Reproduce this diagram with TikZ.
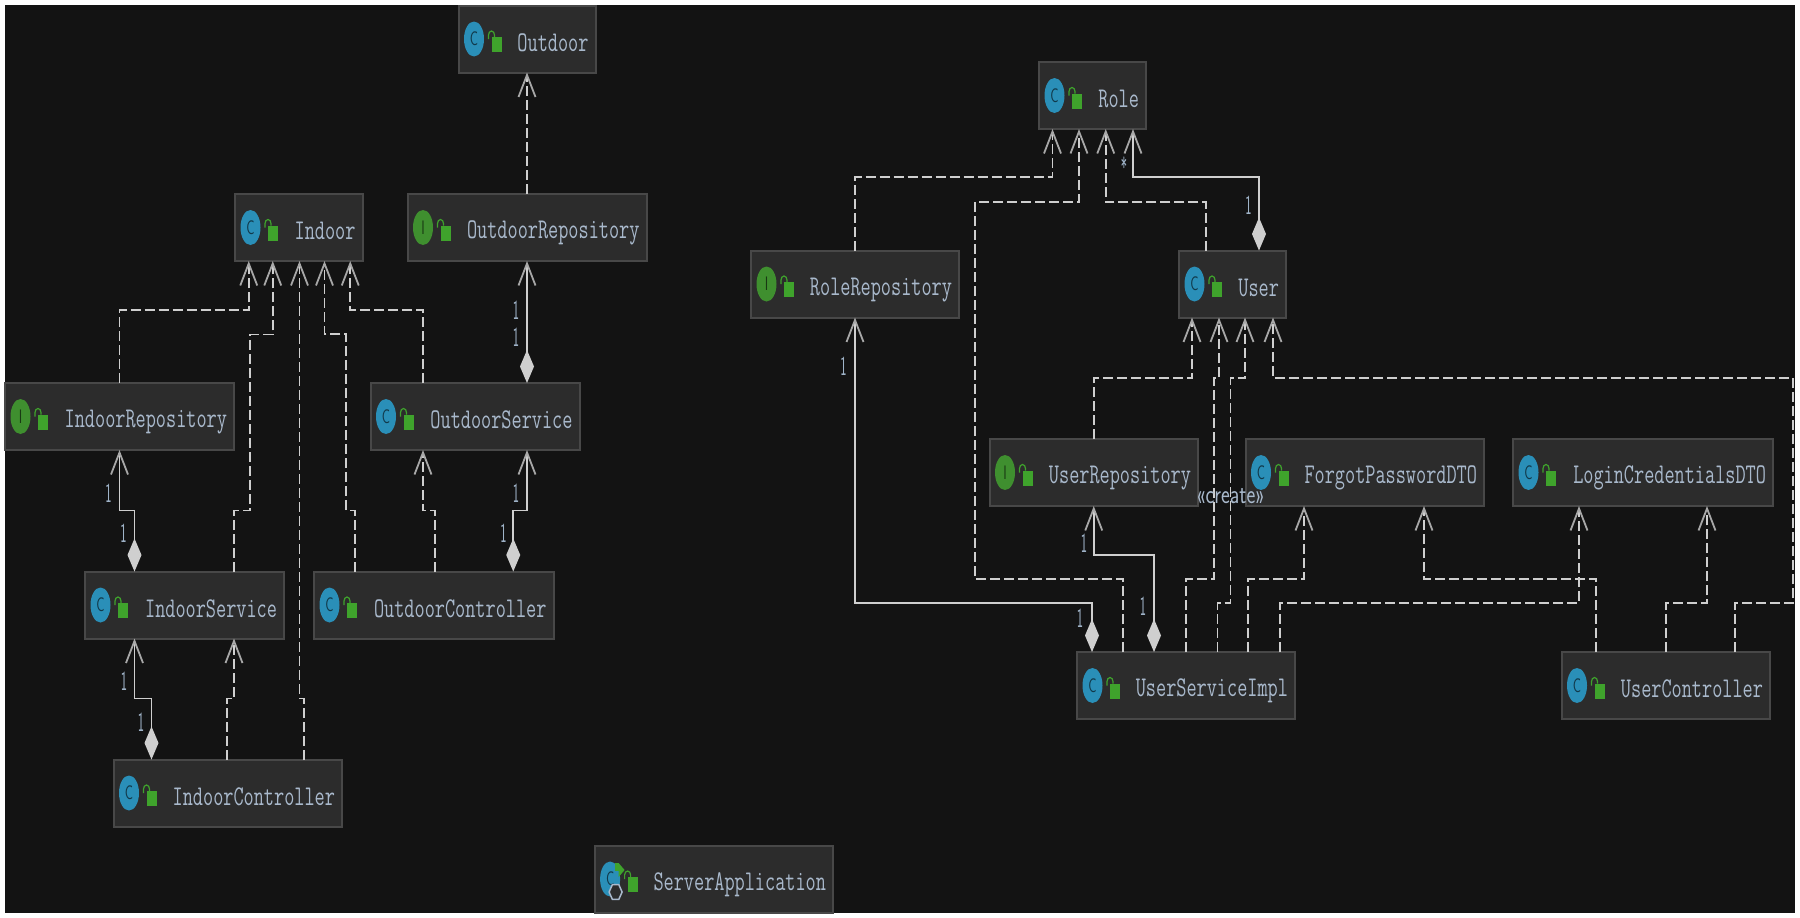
\documentclass[tikz,border=0pt]{standalone}
\usepackage{graphicx}
\usetikzlibrary{arrows.meta,shapes.geometric}
\definecolor{pagebg}{HTML}{131313}
\definecolor{boxfill}{HTML}{2C2C2C}
\definecolor{boxline}{HTML}{484848}
\definecolor{wire}{HTML}{CFCFCF}
\definecolor{tipgrey}{HTML}{A8A8A8}
\definecolor{nametext}{HTML}{A9B9CC}
\definecolor{multtext}{HTML}{9FB3C8}
\definecolor{iconblue}{HTML}{2A8FB8}
\definecolor{icongreen}{HTML}{3F8F2F}
\definecolor{lockgreen}{HTML}{3FA32C}
\newcommand{\boxname}[1]{\rule[-5pt]{0pt}{34pt}\scalebox{1}[1.45]{\ttfamily #1}}
\newcommand{\multmark}[1]{\scalebox{.7}[1.45]{#1}}
\tikzset{
  classbox/.style={draw=boxline, line width=2pt, fill=boxfill, text=nametext, text width=#1,
    align=right, inner xsep=7pt, inner ysep=0pt, outer sep=0pt, minimum height=67pt, font=\fontsize{19.7}{22}\selectfont},
  classicon/.style={ellipse, inner sep=0pt, minimum width=20pt, minimum height=35pt, text=black!60!#1,
    fill=#1, font=\sffamily\fontsize{13}{14}\selectfont},
  dep/.style={draw=wire, line width=1.8pt, dash pattern=on 10pt off 4pt,
    -{Straight Barb[length=22pt,width=17pt,color=tipgrey,line width=1.8pt]}},
  compo/.style={draw=wire, line width=1.8pt,
    {Diamond[length=33pt,width=14pt,color=wire,fill=wire]}-{Straight Barb[length=22pt,width=17pt,color=tipgrey,line width=1.8pt]}},
  mult/.style={text=multtext, inner sep=0pt, font=\sffamily\fontsize{19}{20}\selectfont},
}
\begin{document}
\begin{tikzpicture}[x=1pt,y=-1pt]
    \useasboundingbox (0,0) rectangle (1800,918);
    \fill[white] (0,0) rectangle (1800,918);
    \fill[pagebg] (5,5) rectangle (1795,913);
    % left group
    \node[classbox=123pt] (outdoor) at (527,39) {\boxname{Outdoor}};
    \node[classbox=113.5pt] (indoor) at (298.75,227.5) {\boxname{Indoor}};
    \node[classbox=225pt] (outdoorrepo) at (527,227.5) {\boxname{OutdoorRepository}};
    \node[classbox=215pt] (indoorrepo) at (119.5,416.5) {\boxname{IndoorRepository}};
    \node[classbox=195pt] (outdoorservice) at (475,416.5) {\boxname{OutdoorService}};
    \node[classbox=185pt] (indoorservice) at (184.5,605) {\boxname{IndoorService}};
    \node[classbox=225.5pt] (outdoorctrl) at (433.75,605) {\boxname{OutdoorController}};
    \node[classbox=214.5pt] (indoorctrl) at (227.75,793) {\boxname{IndoorController}};
    \node[classbox=224.4pt] (serverapp) at (713.8,879) {\boxname{ServerApplication}};
    % right group
    \node[classbox=93pt] (role) at (1092.5,95.5) {\boxname{Role}};
    \node[classbox=194pt] (rolerepo) at (855,284) {\boxname{RoleRepository}};
    \node[classbox=93pt] (user) at (1232.5,284) {\boxname{User}};
    \node[classbox=194.5pt] (userrepo) at (1093.75,472.5) {\boxname{UserRepository}};
    \node[classbox=224.5pt] (forgotdto) at (1364.75,472.5) {\boxname{ForgotPasswordDTO}};
    \node[classbox=246pt] (logindto) at (1643,472.5) {\boxname{LoginCredentialsDTO}};
    \node[classbox=204pt] (userimpl) at (1186,685.5) {\boxname{UserServiceImpl}};
    \node[classbox=194.5pt] (userctrl) at (1665.75,685.5) {\boxname{UserController}};
    % icons
    \foreach \n/\c/\k in {outdoor/iconblue/C, indoor/iconblue/C, outdoorrepo/icongreen/I, indoorrepo/icongreen/I,
        outdoorservice/iconblue/C, indoorservice/iconblue/C, outdoorctrl/iconblue/C, indoorctrl/iconblue/C,
        serverapp/iconblue/C, role/iconblue/C, rolerepo/icongreen/I, user/iconblue/C, userrepo/icongreen/I,
        forgotdto/iconblue/C, logindto/iconblue/C, userimpl/iconblue/C, userctrl/iconblue/C} {
      \node[classicon=\c] (\n-icon) at ([xshift=15.5pt]\n.west) {\scalebox{1}[1.5]{\k}};
      \fill[lockgreen] ([xshift=33pt,yshift=2pt]\n.west) rectangle ([xshift=43pt,yshift=-13pt]\n.west);
      \draw[lockgreen,line width=1.2pt] ([xshift=30pt,yshift=0pt]\n.west) -- ([xshift=30pt,yshift=4pt]\n.west)
        arc[x radius=3pt,y radius=4pt,start angle=180,end angle=0] -- ([xshift=36pt,yshift=2pt]\n.west);
    }
    % run marker on the application icon
    \fill[lockgreen] ([xshift=20pt,yshift=16pt]serverapp.west) rectangle ([xshift=24pt,yshift=8pt]serverapp.west);
    \fill[lockgreen] ([xshift=24pt,yshift=16pt]serverapp.west) -- ([xshift=30pt,yshift=9pt]serverapp.west) -- ([xshift=24pt,yshift=2pt]serverapp.west) -- cycle;
    \node[regular polygon, regular polygon sides=6, draw=nametext, fill=boxfill, line width=1.5pt, inner sep=0pt, minimum size=13pt, yscale=1.3] (serverapp-gear) at ([xshift=21pt,yshift=-13pt]serverapp.west) {};
    % connectors, left group
    \draw[dep] (outdoorrepo.north) -- (outdoor.south);
    \draw[compo] ([xshift=52pt]outdoorservice.north) -- (outdoorrepo.south);
    \draw[dep] (indoorrepo.north) -- ++(0,-73) -| ([xshift=-50pt]indoor.south);
    \draw[dep] ([xshift=49.5pt]indoorservice.north) -- ++(0,-61) -- ++(16,0) -- ++(0,-176) -| ([xshift=-26pt]indoor.south);
    \draw[dep] ([xshift=76pt]indoorctrl.north) -- ++(0,-61) -| ([xshift=0.75pt]indoor.south);
    \draw[dep] ([xshift=-79pt]outdoorctrl.north) -- ++(0,-61) -- ++(-8.5,0) -- ++(0,-176.5) -| ([xshift=25.75pt]indoor.south);
    \draw[dep] ([xshift=-52pt]outdoorservice.north) -- ++(0,-73) -| ([xshift=51.5pt]indoor.south);
    \draw[dep] ([xshift=1.25pt]outdoorctrl.north) -- ++(0,-61) -| ([xshift=-52pt]outdoorservice.south);
    \draw[compo] ([xshift=79.5pt]outdoorctrl.north) -- ++(0,-61) -| ([xshift=52pt]outdoorservice.south);
    \draw[compo] ([xshift=-50pt]indoorservice.north) -- ++(0,-61) -| (indoorrepo.south);
    \draw[dep] ([xshift=-0.75pt]indoorctrl.north) -- ++(0,-61) -| ([xshift=49.5pt]indoorservice.south);
    \draw[compo] ([xshift=-76.25pt]indoorctrl.north) -- ++(0,-61) -| ([xshift=-50pt]indoorservice.south);
    % connectors, right group
    \draw[dep] (rolerepo.north) -- ++(0,-73.5) -| ([xshift=-40pt]role.south);
    \draw[dep] ([xshift=-63pt]userimpl.north) -- ++(0,-73) -- ++(-148,0) -- ++(0,-377) -| ([xshift=-13.5pt]role.south);
    \draw[dep] ([xshift=-26.75pt]user.north) -- ++(0,-48.5) -| ([xshift=13.25pt]role.south);
    \draw[compo] ([xshift=26.5pt]user.north) -- ++(0,-73.5) -| ([xshift=40.5pt]role.south);
    \draw[dep] (userrepo.north) -- ++(0,-61) -| ([xshift=-40.5pt]user.south);
    \draw[dep] (userimpl.north) -- ++(0,-73) -- ++(28,0) -- ++(0,-201) -| ([xshift=-13.5pt]user.south);
    \draw[dep] ([xshift=31.5pt]userimpl.north) -- ++(0,-49) -- ++(13,0) -- ++(0,-225) -| ([xshift=12.5pt]user.south);
    \draw[dep] ([xshift=69.25pt]userctrl.north) -- ++(0,-49) -- ++(58,0) -- ++(0,-225) -| ([xshift=40.5pt]user.south);
    \draw[compo] ([xshift=-94pt]userimpl.north) -- ++(0,-49) -| (rolerepo.south);
    \draw[compo] ([xshift=-32pt]userimpl.north) -- ++(0,-97) -| (userrepo.south);
    \draw[dep] ([xshift=62pt]userimpl.north) -- ++(0,-73) -| ([xshift=-60.75pt]forgotdto.south);
    \draw[dep] ([xshift=94pt]userimpl.north) -- ++(0,-49) -| ([xshift=-64pt]logindto.south);
    \draw[dep] ([xshift=-69.75pt]userctrl.north) -- ++(0,-73) -| ([xshift=59.25pt]forgotdto.south);
    \draw[dep] (userctrl.north) -- ++(0,-49) -| ([xshift=64pt]logindto.south);
    % multiplicities
    \node[mult] (m1) at (516,310) {\multmark{1}};
    \node[mult] (m2) at (516,337) {\multmark{1}};
    \node[mult] (m3) at (108.6,493) {\multmark{1}};
    \node[mult] (m4) at (123.4,533) {\multmark{1}};
    \node[mult] (m5) at (516,493) {\multmark{1}};
    \node[mult] (m6) at (503.6,533) {\multmark{1}};
    \node[mult] (m7) at (124,681) {\multmark{1}};
    \node[mult] (m8) at (141,722) {\multmark{1}};
    \node[mult] (m9) at (1124,167) {\multmark{*}};
    \node[mult] (m10) at (1248.6,205) {\multmark{1}};
    \node[mult] (m11) at (843.6,366) {\multmark{1}};
    \node[mult] (m12) at (1080,618) {\multmark{1}};
    \node[mult] (m13) at (1084,543) {\multmark{1}};
    \node[mult] (m14) at (1143,606) {\multmark{1}};
    \node[text=nametext, inner sep=0pt, font=\sffamily\fontsize{20}{22}\selectfont] (createlbl) at (1230.5,496) {\scalebox{1.05}[1.35]{«create»}};
\end{tikzpicture}
\end{document}
